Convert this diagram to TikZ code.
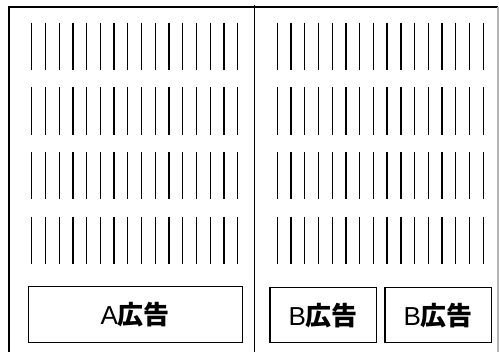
\documentclass[tikz,border=0pt]{standalone}
\usepackage{fontspec}
\setmainfont{Liberation Sans}
\newfontfamily\cjk{Noto Sans CJK JP}
\usetikzlibrary{positioning}

\begin{document}
\begin{tikzpicture}[x=1pt,y=-1pt,line width=1.2pt,
  adbox/.style={draw,line width=1.2pt,minimum height=56pt,inner sep=0pt,font=\fontsize{26}{26}\selectfont},
  bar/.style={line width=1.3pt,black}]

\useasboundingbox (0,0) rectangle (499,352);

% frame
\draw (9,352) -- (9,7) -- (498,7);
\draw[black!30] (498,7) -- (498,352);
\draw (254.7,5) -- (254.7,352);

% rows of bars
\foreach \r in {0,...,3}{
  \foreach \i in {0,...,15}{
    \draw[bar] (31.7+13.73*\i,22.7+64.67*\r) -- ++(0,47.3);
    \draw[bar] (277.3+13.73*\i,22.7+64.67*\r) -- ++(0,47.3);
  }
}

% ads
\node[adbox,minimum width=214pt] (A) at (135.3,314.3) {A{\cjk\bfseries 広告}};
\node[adbox,minimum width=106.7pt,minimum height=55pt] (B1) at (323.3,315.2) {B{\cjk\bfseries 広告}};
\node[adbox,minimum width=106.7pt,minimum height=55pt] (B2) at (438.3,315.2) {B{\cjk\bfseries 広告}};
\end{tikzpicture}
\end{document}
